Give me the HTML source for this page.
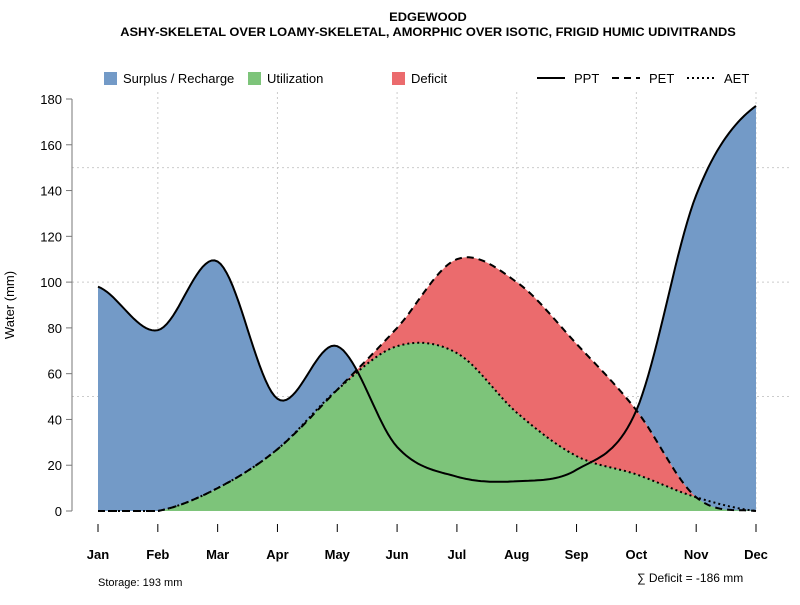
<!DOCTYPE html>
<html><head><meta charset="utf-8"><style>
body{margin:0;background:#fff;}
svg{font-family:"Liberation Sans",sans-serif;}
</style></head><body>
<svg id="c" width="800" height="600">
<text x="428" y="21" text-anchor="middle" font-size="12" font-weight="bold" transform="translate(428,0) scale(1.07,1) translate(-428,0)">EDGEWOOD</text>
<text x="428" y="36" text-anchor="middle" font-size="12" font-weight="bold" transform="translate(428,0) scale(1.07,1) translate(-428,0)">ASHY-SKELETAL OVER LOAMY-SKELETAL, AMORPHIC OVER ISOTIC, FRIGID HUMIC UDIVITRANDS</text>
<g>
<rect x="104" y="72" width="13" height="13" fill="#739ac7"/>
<text x="123" y="83" font-size="13">Surplus / Recharge</text>
<rect x="248" y="72" width="13" height="13" fill="#7dc47a"/>
<text x="267" y="83" font-size="13">Utilization</text>
<rect x="392" y="72" width="13" height="13" fill="#eb6b6d"/>
<text x="411" y="83" font-size="13">Deficit</text>
<line x1="537" y1="78" x2="565" y2="78" stroke="#000" stroke-width="2"/>
<text x="574" y="83" font-size="13">PPT</text>
<line x1="612" y1="78" x2="640" y2="78" stroke="#000" stroke-width="2" stroke-dasharray="7,5"/>
<text x="649" y="83" font-size="13">PET</text>
<line x1="687" y1="78" x2="715" y2="78" stroke="#000" stroke-width="2" stroke-dasharray="2,3"/>
<text x="724" y="83" font-size="13">AET</text>
</g>
<g id="grid"></g>
<g id="areas"></g>
<g id="lines"></g>
<g id="axes"></g>
<text transform="translate(14,305) rotate(-90)" text-anchor="middle" font-size="13">Water (mm)</text>
<text x="98" y="586" font-size="11">Storage: 193 mm</text>
<text x="637" y="582" font-size="12">∑ Deficit = -186 mm</text>
</svg>
<script>
const months=["Jan","Feb","Mar","Apr","May","Jun","Jul","Aug","Sep","Oct","Nov","Dec"];
const ppt=[98,79,109,49,72,28,15,13,18,44,138,177];
const pet=[0,0,10,27,53,80,110,100,73,44,6,0];
const aet=[0,0,10,27,53,72,69,43,24,16,6,0];
const yTicks=[0,20,40,60,80,100,120,140,160,180];
const NS="http://www.w3.org/2000/svg";
const x=i=>98+i*(756-98)/11, y=v=>511-v*(511-99)/180;
function mk(t,a,p){const e=document.createElementNS(NS,t);for(const k in a)e.setAttribute(k,a[k]);document.getElementById(p).appendChild(e);return e;}
function spline(d){const pts=[];const n=d.length;for(let i=0;i<n-1;i++){const p0=d[Math.max(i-1,0)],p1=d[i],p2=d[i+1],p3=d[Math.min(i+2,n-1)];for(let s=0;s<20;s++){const t=s/20,t2=t*t,t3=t2*t;let v=0.5*((2*p1)+(-p0+p2)*t+(2*p0-5*p1+4*p2-p3)*t2+(-p0+3*p1-3*p2+p3)*t3);pts.push([x(i+t),Math.max(v,0)]);}}pts.push([x(n-1),d[n-1]]);return pts;}
const sp=spline(ppt),se=spline(pet),sa=spline(aet);
const path=a=>a.map((p,i)=>(i?"L":"M")+p[0].toFixed(1)+","+y(p[1]).toFixed(1)).join("");
const area=a=>path(a)+"L"+x(11)+","+y(0)+"L"+x(0)+","+y(0)+"Z";
[50,100,150].forEach(v=>{const l=mk("line",{x1:72,x2:790,y1:y(v),y2:y(v),stroke:"#ccc","stroke-dasharray":"2,3"},"grid");

});
[1,3,5,7,9,11].forEach(i=>{const l=mk("line",{x1:x(i),x2:x(i),y1:92,y2:511,stroke:"#ccc","stroke-dasharray":"2,3"},"grid");

});
const defs=mk("defs",{},"areas");
const cp=document.createElementNS(NS,"clipPath");cp.setAttribute("id","abovePet");defs.appendChild(cp);
const cpp=document.createElementNS(NS,"path");cpp.setAttribute("d",path(se)+"L"+x(11)+",0L"+x(0)+",0Z");cp.appendChild(cpp);
let a1=mk("path",{d:area(se),fill:"#eb6b6d"},"areas");


let a2=mk("path",{d:area(sa),fill:"#7dc47a"},"areas");


let a3=mk("path",{d:area(sp),fill:"#739ac7","clip-path":"url(#abovePet)"},"areas");


let l1=mk("path",{d:path(sp),fill:"none",stroke:"#000","stroke-width":2},"lines");


let l2=mk("path",{d:path(se),fill:"none",stroke:"#000","stroke-width":2,"stroke-dasharray":"7,5"},"lines");


let l3=mk("path",{d:path(sa),fill:"none",stroke:"#000","stroke-width":2,"stroke-dasharray":"2,3"},"lines");


let ya=mk("line",{x1:72,x2:72,y1:y(0),y2:y(180),stroke:"#777","stroke-width":1},"axes");


yTicks.forEach(v=>{let t=mk("line",{x1:66,x2:72,y1:y(v),y2:y(v),stroke:"#777"},"axes");


let tx=mk("text",{x:62,y:y(v)+5,"text-anchor":"end","font-size":13},"axes");tx.textContent=v;

});
months.forEach((m,i)=>{let t=mk("line",{x1:x(i),x2:x(i),y1:524,y2:532,stroke:"#000"},"axes");


let tx=mk("text",{x:x(i),y:559,"text-anchor":"middle","font-size":13,"font-weight":"bold"},"axes");tx.textContent=m;

});
</script>
</body></html>
